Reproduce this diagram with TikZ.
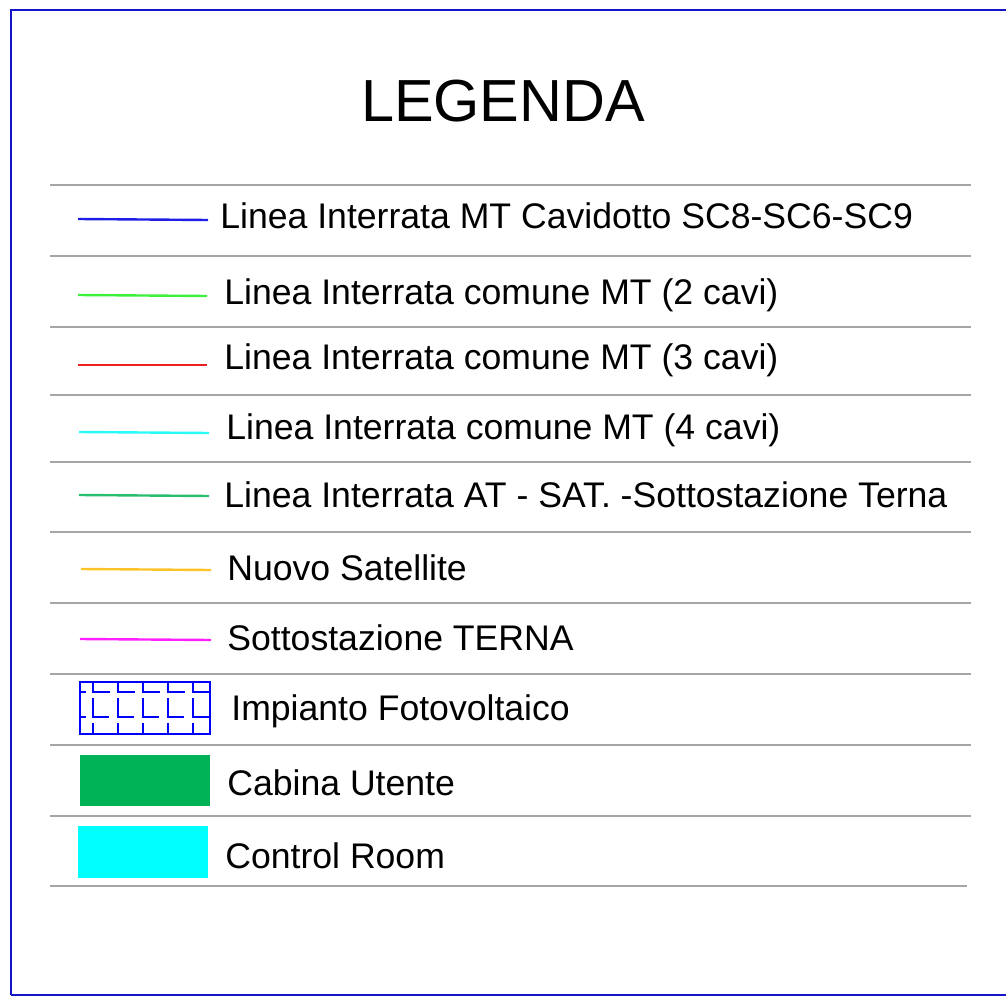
\documentclass[tikz,border=0pt]{standalone}
\usepackage{fontspec}
\setmainfont{Liberation Sans}
\definecolor{framblue}{RGB}{20,20,200}
\definecolor{mtblue}{RGB}{30,30,230}
\definecolor{mtgreen}{RGB}{60,240,60}
\definecolor{mtred}{RGB}{240,30,30}
\definecolor{mtcyan}{RGB}{40,250,250}
\definecolor{atgreen}{RGB}{40,190,110}
\definecolor{satyellow}{RGB}{255,195,40}
\definecolor{ternamag}{RGB}{255,30,255}
\definecolor{cabgreen}{RGB}{0,178,86}
\definecolor{roomcyan}{RGB}{0,255,255}
\begin{document}
\begin{tikzpicture}[x=0.5pt,y=-0.5pt,
        rowline/.style={draw=black!35,line width=1pt},
        cable/.style={line width=1.2pt},
        lbl/.style={anchor=base west,inner sep=0pt,font=\fontsize{17.8}{20}\selectfont},
        pv/.style={draw=blue,line width=0.7pt}]
    \useasboundingbox (0,0) rectangle (1006,1000);
    \draw[framblue,line width=1.4pt] (11,995) -- (11,10) -- (1012,10);
    \draw[framblue,line width=1.4pt] (11,995) -- (1012,995);
    \node[anchor=base,inner sep=0pt,font=\fontsize{29.7}{34}\selectfont] (title) at (503,122) {LEGENDA};
    % righe della tabella
    \foreach \y in {185,256,327,395,462,532,603,674,745,816}
        \draw[rowline] (50,\y) -- (971,\y);
    \draw[rowline] (50,886) -- (967,886);
	% linee
    \draw[cable,mtblue] (78,219) -- (208,220);
    \draw[cable,mtgreen] (78,295) -- (207,296);
    \draw[cable,mtred] (78,365) -- (207,365);
    \draw[cable,mtcyan] (79,432) -- (209,433);
    \draw[cable,atgreen] (79,495) -- (209,496);
    \draw[cable,satyellow] (81,569) -- (211,570);
    \draw[cable,ternamag] (80,639) -- (211,640);
    % impianto fotovoltaico
    \draw[pv] (80,682) rectangle (210,734);
    \draw[pv] (80,692) -- (86,692);
    \draw[pv] (80,717) -- (86,717);
    \foreach \x in {93,118,143,168,193} {
        \draw[pv] (\x,682) -- (\x,692) -- (\x+17,692);
        \draw[pv] (\x,698) -- (\x,717) -- (\x+16,717);
        \draw[pv] (\x,723) -- (\x,734);
    }
    \fill[cabgreen] (80,755) rectangle (210,806);
    \fill[roomcyan] (78,826) rectangle (208,878);
    % testi
    \node[lbl] (t1) at (220,229) {Linea Interrata MT Cavidotto SC8-SC6-SC9};
    \node[lbl] (t2) at (224,304) {Linea Interrata comune MT (2 cavi)};
    \node[lbl] (t3) at (224,369) {Linea Interrata comune MT (3 cavi)};
    \node[lbl] (t4) at (226,439) {Linea Interrata comune MT (4 cavi)};
    \node[lbl] (t5) at (224,507) {Linea Interrata AT - SAT. -Sottostazione Terna};
    \node[lbl] (t6) at (227,580) {Nuovo Satellite};
    \node[lbl] (t7) at (227,650) {Sottostazione TERNA};
    \node[lbl] (t8) at (231,720) {Impianto Fotovoltaico};
    \node[lbl] (t9) at (227,795) {Cabina Utente};
    \node[lbl] (t10) at (225,868) {Control Room};
\end{tikzpicture}
\end{document}
